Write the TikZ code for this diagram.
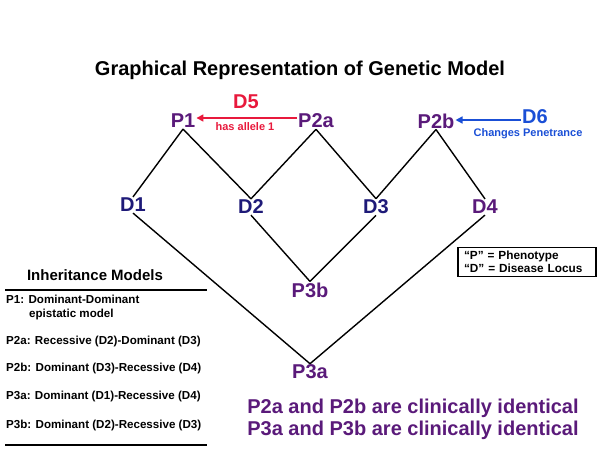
\documentclass[tikz,border=0pt]{standalone}
\usepackage{fontspec}
\setmainfont{Liberation Sans}
\usetikzlibrary{arrows.meta}
\definecolor{ppl}{HTML}{5A1A7A}
\definecolor{dbl}{HTML}{1E1A78}
\definecolor{rd}{HTML}{E8193C}
\definecolor{bl}{HTML}{1A4FD6}
\begin{document}
\begin{tikzpicture}[x=1pt,y=-1pt,
  big/.style={font=\fontsize{20}{22}\selectfont\bfseries,inner sep=1pt},
  ph/.style={big,text=ppl},
  dl/.style={big,text=dbl},
  lnk/.style={line width=1.4pt,black},
  item/.style={font=\fontsize{11.6}{14}\selectfont\bfseries,anchor=west,inner sep=0pt,align=left},
  lbl/.style={font=\fontsize{11}{13}\selectfont\bfseries,inner sep=0pt}]
\useasboundingbox (0,0) rectangle (600,450);
\node[font=\fontsize{20}{24}\selectfont\bfseries] (title) at (300,70) {Graphical Representation of Genetic Model};
\node[ph] (P1) at (183,121) {P1};
\node[ph] (P2a) at (316,121) {P2a};
\node[ph] (P2b) at (436,121) {P2b};
\node[dl] (D1) at (133,205) {D1};
\node[dl] (D2) at (251,207) {D2};
\node[dl] (D3) at (376,207) {D3};
\node[ph] (D4) at (485,207) {D4};
\node[ph] (P3b) at (310,290) {P3b};
\node[ph] (P3a) at (310,372) {P3a};
% D5
\node[big,text=rd] (D5) at (246,102) {D5};
\node[lbl,text=rd] (h1) at (245,127) {has allele 1};
\draw[rd,line width=1.6pt,-{Triangle[length=7pt,width=7pt]}] ([yshift=3pt]P2a.west) -- ([yshift=3pt]P1.east);
% D6
\node[big,text=bl] (D6) at (535,117) {D6};
\node[lbl,text=bl] (cp) at (528,134) {Changes Penetrance};
\draw[bl,line width=1.6pt,-{Triangle[length=7pt,width=7pt]}] ([yshift=-3pt]D6.west) -- ([yshift=-3pt]P2b.east|-D6.west);
% links
\draw[lnk] (P1.south) -- (D1.north);
\draw[lnk] (P1.south) -- (D2.north);
\draw[lnk] (P2a.south) -- (D2.north);
\draw[lnk] (P2a.south) -- (D3.north);
\draw[lnk] (P2b.south) -- (D3.north);
\draw[lnk] (P2b.south) -- (D4.north);
\draw[lnk] (D2.south) -- (P3b.north);
\draw[lnk] (D3.south) -- (P3b.north);
\draw[lnk] (D1.south) -- (P3a.north);
\draw[lnk] (D4.south) -- (P3a.north);
% legend
\node[draw,line width=1.6pt,font=\fontsize{11.8}{13.5}\selectfont\bfseries,align=left,minimum width=138pt,minimum height=29pt,text width=126pt] (leg) at (527,262) {“P” = Phenotype\\“D” = Disease Locus};
% inheritance models
\node[font=\fontsize{15}{17}\selectfont\bfseries] (im) at (95,275) {Inheritance Models};
\coordinate (l1a) at (5,290); \coordinate (l1b) at (207,290);
\draw[line width=1.2pt] (l1a) -- (l1b);
\node[item] (i1) at (6,307) {P1: Dominant-Dominant\\\hspace*{23pt}epistatic model};
\node[item] (i2) at (6,341) {P2a: Recessive (D2)-Dominant (D3)};
\node[item] (i3) at (6,368) {P2b: Dominant (D3)-Recessive (D4)};
\node[item] (i4) at (6,396) {P3a: Dominant (D1)-Recessive (D4)};
\node[item] (i5) at (6,425) {P3b: Dominant (D2)-Recessive (D3)};
\coordinate (l2a) at (5,445); \coordinate (l2b) at (207,445);
\draw[line width=1.6pt] (l2a) -- (l2b);
% bottom
\node[font=\fontsize{20}{22}\selectfont\bfseries,text=ppl,align=center] (ci) at (413,419) {P2a and P2b are clinically identical\\P3a and P3b are clinically identical};
\end{tikzpicture}
\end{document}
